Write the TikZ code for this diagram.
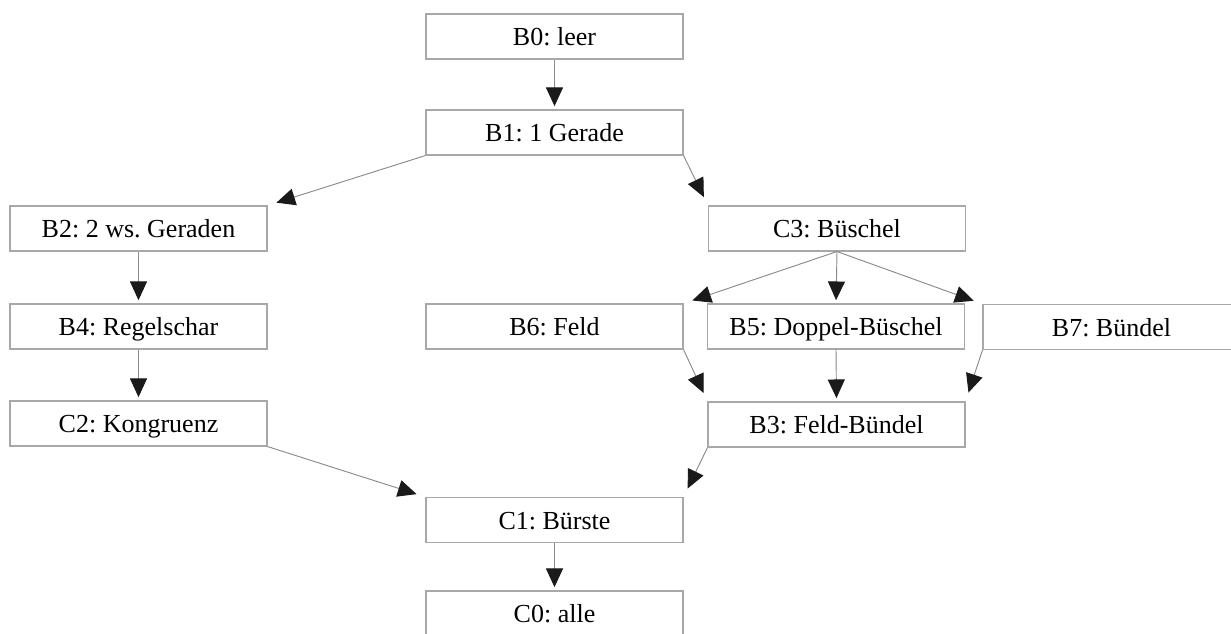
\documentclass[tikz,border=0pt]{standalone}
\usepackage{fontspec}
\setmainfont{Liberation Serif}
\usetikzlibrary{arrows.meta}
\definecolor{boxgray}{HTML}{A8A8A8}
\definecolor{linegray}{HTML}{8A8A8A}
\definecolor{tipblack}{HTML}{1A1A1A}
\frenchspacing
\begin{document}
\begin{tikzpicture}[x=0.75pt,y=-0.75pt,
  box/.style={draw=boxgray,line width=0.8pt,fill=white,inner sep=0pt,
    minimum width=192.75pt,minimum height=33.75pt,
    text height=14.6pt,text depth=1pt,
    font=\fontsize{19.5}{22}\selectfont,text=black},
  conn/.style={draw=linegray,line width=0.7pt,
    -{Triangle[length=14pt,width=12.75pt,fill=tipblack,color=tipblack]}},
  vconn/.style={conn,shorten >=2.5pt},
  dconn/.style={conn,shorten >=7pt}]
\path[use as bounding box] (0,0) rectangle (1231,633);
\clip (0,0) rectangle (1231,633);
\node[box] (B0) at (554.5,36.5) {B0: leer};
\node[box] (B1) at (554.5,132.5) {B1: 1 Gerade};
\node[box] (B2) at (138.5,228.5) {B2: 2 ws. Geraden};
\node[box] (C3) at (837,228.5) {C3: Büschel};
\node[box] (B4) at (138.5,326.5) {B4: Regelschar};
\node[box] (B6) at (554.5,326.5) {B6: Feld};
\node[box] (B5) at (836,326.5) {B5: Doppel-Büschel};
\node[box] (B7) at (1111.5,327) {B7: Bündel};
\node[box] (C2) at (138.5,423.5) {C2: Kongruenz};
\node[box] (B3) at (836.5,424.5) {B3: Feld-Bündel};
\node[box] (C1) at (554.5,520) {C1: Bürste};
\node[box] (C0) at (554.5,613.5) {C0: alle};
\draw[vconn] (B0.south) -- (B1.north);
\draw[dconn] (B1.south west) -- (B2.north east);
\draw[dconn] (B1.south east) -- (C3.north west);
\draw[vconn] (B2.south) -- (B4.north);
\draw[vconn] (B4.south) -- (C2.north);
\draw[dconn] (C2.south east) -- (C1.north west);
\draw[dconn] (C3.south) -- (B6.north east);
\draw[vconn] (C3.south) -- (B5.north);
\draw[dconn] (C3.south) -- (B7.north west);
\draw[dconn] (B6.south east) -- (B3.north west);
\draw[vconn] (B5.south) -- (B3.north);
\draw[dconn] (B7.south west) -- (B3.north east);
\draw[dconn] (B3.south west) -- (C1.north east);
\draw[vconn] (C1.south) -- (C0.north);
\end{tikzpicture}
\end{document}
